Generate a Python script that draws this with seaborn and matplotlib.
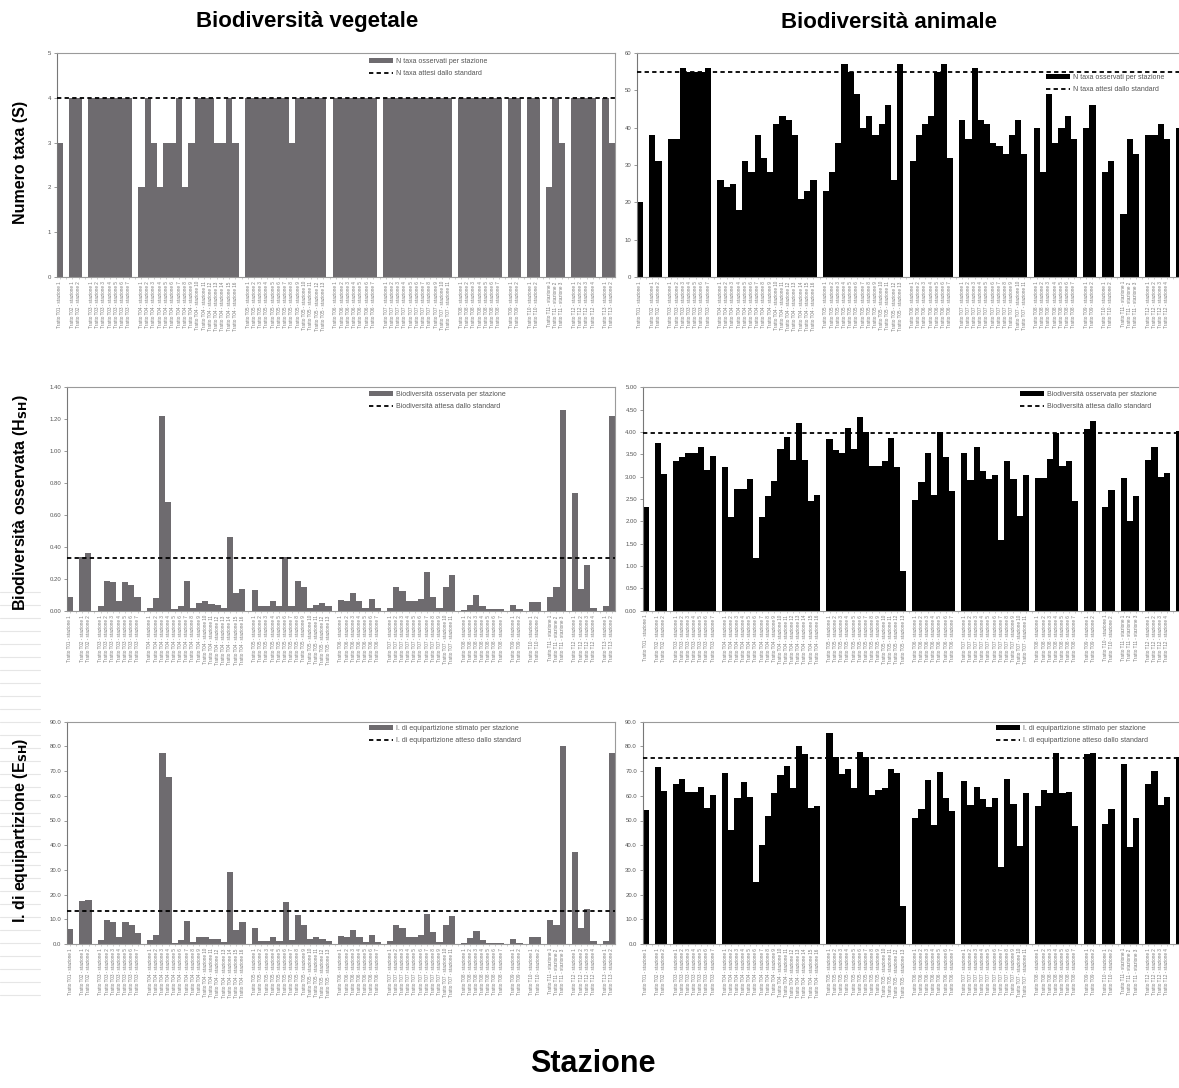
import matplotlib
matplotlib.use("Agg")
import matplotlib.pyplot as plt
import pandas as pd
import seaborn as sns
from matplotlib.patches import Patch
from matplotlib.lines import Line2D

# ---------------------------------------------------------------- data
# stations are grouped by stretch; one empty slot separates consecutive groups
group_names = ["T01", "T02", "T03", "T04", "T05", "T06", "T07",
               "T08", "T09", "T10", "T11", "T12", "T13"]
group_sizes = [1, 2, 7, 16, 13, 7, 11, 7, 2, 2, 3, 4, 2]

# plant communities
plant_taxa = [3,
              4, 4,
              4, 4, 4, 4, 4, 4, 4,
              2, 4, 3, 2, 3, 3, 4, 2, 3, 4, 4, 4, 3, 3, 4, 3,
              4, 4, 4, 4, 4, 4, 4, 3, 4, 4, 4, 4, 4,
              4, 4, 4, 4, 4, 4, 4,
              4, 4, 4, 4, 4, 4, 4, 4, 4, 4, 4,
              4, 4, 4, 4, 4, 4, 4,
              4, 4,
              4, 4,
              2, 4, 3,
              4, 4, 4, 4,
              4, 3]
plant_H = [0.09,
           0.34, 0.36,
           0.03, 0.19, 0.18, 0.06, 0.18, 0.16, 0.09,
           0.02, 0.08, 1.22, 0.68, 0.01, 0.03, 0.19, 0.02, 0.05, 0.06, 0.045, 0.04, 0.02, 0.465, 0.11, 0.14,
           0.13, 0.03, 0.03, 0.06, 0.03, 0.34, 0.03, 0.19, 0.15, 0.02, 0.04, 0.05, 0.03,
           0.07, 0.06, 0.11, 0.06, 0.02, 0.075, 0.02,
           0.02, 0.15, 0.125, 0.06, 0.065, 0.075, 0.245, 0.09, 0.02, 0.15, 0.225,
           0.006, 0.04, 0.10, 0.03, 0.01, 0.01, 0.01,
           0.04, 0.01,
           0.055, 0.055,
           0.09, 0.15, 1.26,
           0.74, 0.135, 0.29, 0.02,
           0.03, 1.22]
plant_E = [6.2,
           17.5, 17.9,
           1.5, 9.8, 8.8, 2.8, 8.9, 7.8, 4.4,
           1.5, 3.8, 77.2, 67.8, 0.4, 1.5, 9.4, 0.7, 2.8, 2.8, 2.2, 2.0, 0.7, 29.1, 5.5, 8.9,
           6.5, 1.3, 1.3, 2.8, 1.3, 17.0, 1.5, 11.9, 7.5, 2.0, 2.7, 2.0, 1.3,
           3.4, 2.8, 5.5, 2.8, 0.8, 3.8, 0.8,
           1.1, 7.8, 6.5, 2.8, 2.8, 3.5, 12.1, 4.7, 0.7, 7.8, 11.2,
           0.4, 2.4, 5.4, 1.8, 0.4, 0.4, 0.4,
           2.0, 0.4,
           2.8, 2.8,
           9.8, 7.8, 80.2,
           37.2, 6.5, 14.3, 1.3,
           1.3, 77.2]

# animal communities
animal_taxa = [20,
               38, 31,
               37, 37, 56, 55, 55, 55, 56,
               26, 24, 25, 18, 31, 28, 38, 32, 28, 41, 43, 42, 38, 21, 23, 26,
               23, 28, 36, 57, 55, 49, 40, 43, 38, 41, 46, 26, 57,
               31, 38, 41, 43, 55, 57, 32,
               42, 37, 56, 42, 41, 36, 35, 33, 38, 42, 33,
               40, 28, 49, 36, 40, 43, 37,
               40, 46,
               28, 31,
               17, 37, 33,
               38, 38, 41, 37,
               40, 38]
animal_H = [2.33,
            3.76, 3.05,
            3.36, 3.43, 3.54, 3.52, 3.66, 3.16, 3.46,
            3.22, 2.09, 2.73, 2.73, 2.95, 1.17, 2.10, 2.57, 2.91, 3.63, 3.88, 3.37, 4.19, 3.37, 2.46, 2.59,
            3.84, 3.60, 3.54, 4.10, 3.61, 4.34, 4.01, 3.24, 3.24, 3.36, 3.86, 3.22, 0.89,
            2.48, 2.87, 3.54, 2.60, 3.99, 3.43, 2.68,
            3.54, 2.93, 3.67, 3.13, 2.95, 3.04, 1.58, 3.36, 2.95, 2.12, 3.04,
            2.96, 2.98, 3.39, 3.97, 3.24, 3.34, 2.46,
            4.07, 4.25,
            2.33, 2.70,
            2.96, 2.01, 2.57,
            3.37, 3.67, 3.00, 3.09,
            4.03, 3.50]
animal_E = [54.3,
            71.8, 62.1,
            64.8, 66.7, 61.5, 61.5, 63.5, 55.0, 60.4,
            69.1, 46.0, 59.0, 65.5, 59.7, 25.1, 40.2, 51.9, 61.3, 68.5, 72.1, 63.1, 80.2, 77.0, 55.0, 55.7,
            85.6, 75.6, 68.9, 70.8, 63.1, 77.9, 75.9, 60.4, 62.4, 63.1, 70.8, 69.1, 15.2,
            50.9, 54.7, 66.2, 48.2, 69.8, 59.0, 53.9,
            66.0, 56.3, 63.7, 58.6, 55.4, 59.0, 31.1, 66.8, 56.6, 39.8, 61.1,
            55.9, 62.4, 61.1, 77.5, 61.1, 61.7, 47.8,
            76.8, 77.5,
            48.5, 54.7,
            72.9, 39.1, 50.9,
            64.8, 70.2, 56.3, 59.7,
            75.6, 66.7]

# values expected by the reference standard
std_plant = {"S": 4, "H": 0.334, "E": 13.2}
std_animal = {"S": 55, "H": 3.97, "E": 75.5}

# -------------------------------------------------------- slot layout
positions, station_labels = [], []
slot = 0
for name, size in zip(group_names, group_sizes):
    for k in range(size):
        positions.append(slot)
        station_labels.append(f"Tratto {name} - stazione {k + 1}")
        slot += 1
    slot += 1
n_slots = slot - 1
tick_labels = [""] * n_slots
for p, lab in zip(positions, station_labels):
    tick_labels[p] = lab

# ---------------------------------------------------------------- style
sns.set_theme(style="white")
plt.rcParams["font.family"] = ["Liberation Sans", "DejaVu Sans"]
plt.rcParams["text.color"] = "black"

W, H = 1179, 1088
fig = plt.figure(figsize=(W / 100, H / 100), dpi=100)
fig.patch.set_facecolor("white")

# faint sheet gridlines showing in the left margin
for yy in range(592, 1004, 13):
    fig.add_artist(Line2D([0, 40 / W], [1 - yy / H] * 2, color="#e6e6e6",
                          lw=0.8, zorder=0))

GREY_BAR = "#6e6b6f"
BLACK_BAR = "#000000"
DASH = (0, (2.4, 1.8))


def px_pt(x, y):
    return (x / W, 1 - y / H)


def panel(x0, x1_full, y_top, y_bot, values, color, std, ylim, step, fmt,
          legend_txt, leg_xy):
    slot_w = (x1_full - x0) / n_slots
    x1 = min(x1_full, W)
    clipped = x1_full > W
    ax = fig.add_axes([x0 / W, 1 - y_bot / H, (x1 - x0) / W, (y_bot - y_top) / H])
    df = pd.DataFrame({"pos": positions, "value": values})
    sns.barplot(data=df, x="pos", y="value", order=list(range(n_slots)),
                color=color, saturation=1, width=1.0, errorbar=None,
                linewidth=0, ax=ax)
    ax.axhline(std, color="black", lw=1.3, ls=DASH, zorder=3)
    ax.set_xlim(-0.5, -0.5 + (x1 - x0) / slot_w)
    ax.set_ylim(0, ylim)
    ticks = [round(i * step, 4) for i in range(int(round(ylim / step)) + 1)]
    ax.set_yticks(ticks)
    ax.set_yticklabels([fmt.format(t) for t in ticks], fontsize=4.3, color="#555555")
    shown = [i for i in range(n_slots) if x0 + (i + 0.5) * slot_w + 4 < W]
    ax.set_xticks(shown)
    ax.set_xticklabels([tick_labels[i] for i in shown], rotation=90,
                       fontsize=3.3, color="#7a7a7a")
    ax.tick_params(axis="y", length=2, width=0.6, color="#888888", pad=2, left=True)
    ax.tick_params(axis="x", length=1.5, width=0.4, color="#aaaaaa", pad=1.5, bottom=True)
    ax.set_xlabel("")
    ax.set_ylabel("")
    for sp in ax.spines.values():
        sp.set_visible(True)
        sp.set_color("#9a9a9a")
        sp.set_linewidth(0.8)
    ax.spines["left"].set_color("#777777")
    if clipped:
        ax.spines["right"].set_visible(False)
    handles = [Patch(facecolor=color, edgecolor="none"),
               Line2D([], [], color="black", lw=1.3, ls=DASH)]
    ax.legend(handles, legend_txt, loc="upper left", frameon=False,
              bbox_to_anchor=px_pt(*leg_xy), bbox_transform=fig.transFigure,
              fontsize=5.0, handlelength=3.5, handleheight=0.8,
              labelspacing=0.75, borderpad=0, borderaxespad=0,
              handletextpad=0.35, labelcolor="#555555")
    return ax


leg_S = ["N taxa osservati per stazione", "N taxa attesi dallo standard"]
leg_H = ["Biodiversità osservata per stazione", "Biodiversità attesa dallo standard"]
leg_E = ["I. di equipartizione stimato per stazione",
         "I. di equipartizione atteso dallo standard"]

# plant column
panel(56.7, 615, 53, 277, plant_taxa, GREY_BAR, std_plant["S"],
      5, 1, "{:.0f}", leg_S, (369, 58))
panel(66.7, 615, 387.3, 611, plant_H, GREY_BAR, std_plant["H"],
      1.4, 0.2, "{:.2f}", leg_H, (369, 391))
panel(67.0, 615, 721.7, 944, plant_E, GREY_BAR, std_plant["E"],
      90, 10, "{:.1f}", leg_E, (369, 725))

# animal column (its right end runs past the sheet border)
panel(636.7, 1188.5, 53, 277, animal_taxa, BLACK_BAR, std_animal["S"],
      60, 10, "{:.0f}", leg_S, (1046, 74))
panel(642.5, 1188.2, 387.3, 610.7, animal_H, BLACK_BAR, std_animal["H"],
      5, 0.5, "{:.2f}", leg_H, (1020, 391))
panel(642.5, 1188.2, 721.7, 944, animal_E, BLACK_BAR, std_animal["E"],
      90, 10, "{:.1f}", leg_E, (996, 725))

# column titles, row titles and common x title
fig.text(307 / W, 1 - 22 / H, "Biodiversità vegetale", ha="center", va="center",
         fontsize=16, fontweight="bold")
fig.text(889 / W, 1 - 22 / H, "Biodiversità animale", ha="center", va="center",
         fontsize=16, fontweight="bold")
fig.text(21 / W, 1 - 162 / H, "Numero taxa (S)", rotation=90, ha="center",
         va="center", fontsize=11.5, fontweight="bold")
fig.text(21 / W, 1 - 503 / H, r"Biodiversità osservata (H$_{\mathbf{SH}}$)",
         rotation=90, ha="center", va="center", fontsize=11.5, fontweight="bold")
fig.text(21 / W, 1 - 830 / H, r"I. di equipartizione (E$_{\mathbf{SH}}$)",
         rotation=90, ha="center", va="center", fontsize=11.5, fontweight="bold")
fig.text(593 / W, 1 - 1064 / H, "Stazione", ha="center", va="center",
         fontsize=22, fontweight="bold")

fig.savefig("out.png", dpi=100, facecolor="white")
